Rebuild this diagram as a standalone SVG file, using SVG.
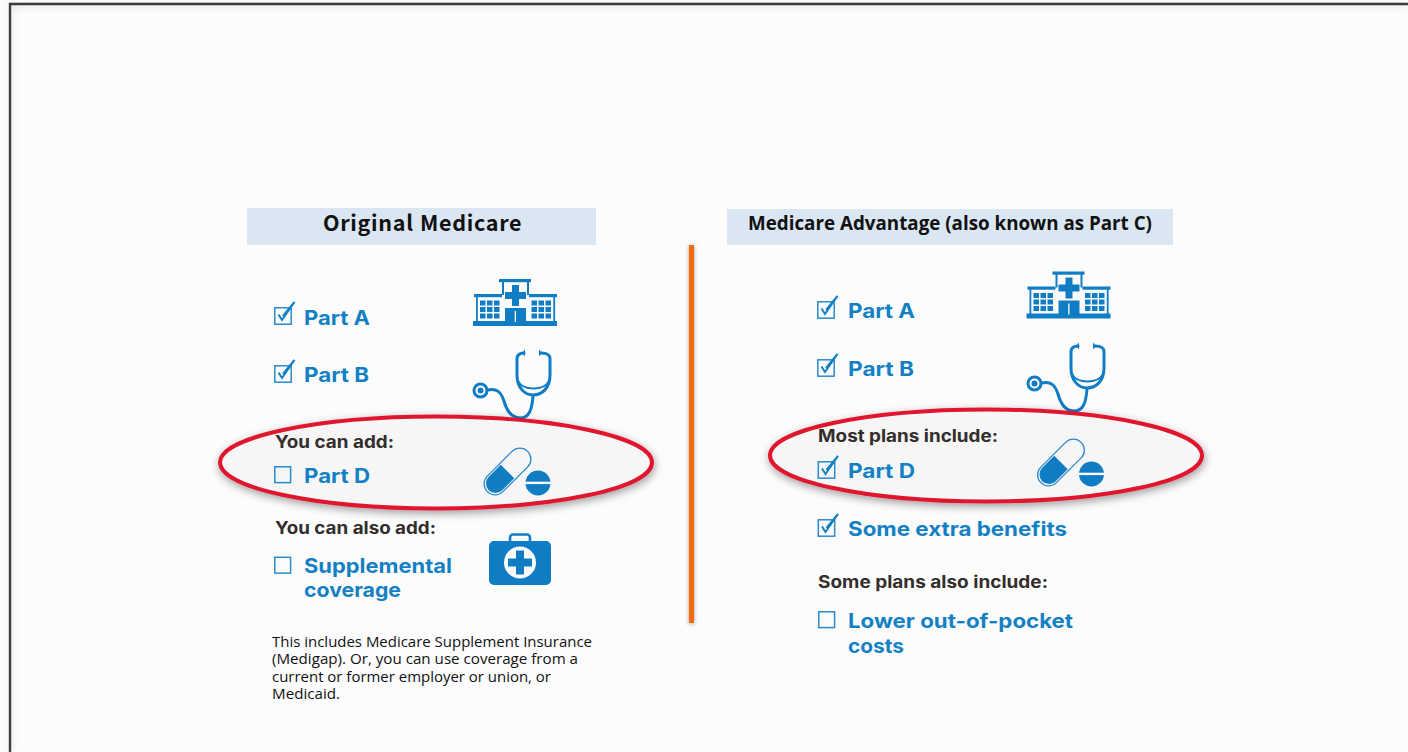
<svg xmlns="http://www.w3.org/2000/svg" width="1408" height="752" viewBox="0 0 1408 752">
<style>
.b{font-family:Inter,"Open Sans","Liberation Sans",sans-serif;font-weight:700;fill:#1480c4;font-size:20px}
.d{font-family:Inter,"Open Sans","Liberation Sans",sans-serif;font-weight:700;fill:#332e2b;font-size:17px}
.p{font-family:"Open Sans","Liberation Sans",sans-serif;fill:#111;font-size:14.5px}
.h{fill:#dae6f2}
.oval{fill:#f6f6f6;stroke:#e0182d;stroke-width:4;filter:url(#sh)}
.box{fill:none;stroke:#2a8aca;stroke-width:1.5}
.tick{fill:none;stroke:#1480c4;stroke-width:2}
.line{fill:none;stroke:#0f7cc3;stroke-width:3;stroke-linecap:round}
.f{fill:#0f7cc3}
.w{fill:#fcfcfd}
</style>
<defs>
<filter id="sh" x="-10%" y="-25%" width="120%" height="160%"><feDropShadow dx="1" dy="3" stdDeviation="4" flood-color="#000" flood-opacity=".38"/></filter>
<filter id="sh2" x="-400%" y="-3%" width="900%" height="106%"><feDropShadow dx="0" dy="1" stdDeviation="2" flood-color="#000" flood-opacity=".35"/></filter>
<filter id="sh3" x="-2%" y="-2%" width="104%" height="104%"><feGaussianBlur stdDeviation="4"/></filter>
<g id="chk"><rect class="box" x="0.800" y="0.800" width="16.400" height="16.400"/><path class="tick" d="M4.500 7.500 L8 13 L20.500 -5 L9 9"/></g>
<g id="emp"><rect class="box" x="0.800" y="0.800" width="15.800" height="15.800"/></g>
<g id="hospital">
<rect class="f" x="473" y="321" width="84" height="5"/>
<rect class="f" x="499" y="279" width="32" height="3.200"/>
<path class="f" d="M502 281h2v14h-2zM527 281h2v14h-2z"/>
<rect class="f" x="474" y="294" width="28" height="3.200"/><rect class="f" x="529" y="294" width="28" height="3.200"/>
<rect class="f" x="476" y="296" width="1.800" height="26"/><rect class="f" x="553.300" y="296" width="1.800" height="26"/>
<path class="f" d="M512 285h7v7h7v7h-7v7h-7v-7h-7v-7h7z"/>
<path class="f" d="M505 308h21v14h-21z"/>
<rect class="w" x="514.700" y="311" width="1.300" height="11"/>
<g class="f">
<rect x="480" y="300.500" width="5.500" height="5"/><rect x="487" y="300.500" width="5.500" height="5"/><rect x="494" y="300.500" width="5.500" height="5"/>
<rect x="480" y="307" width="5.500" height="5"/><rect x="487" y="307" width="5.500" height="5"/><rect x="494" y="307" width="5.500" height="5"/>
<rect x="480" y="313.500" width="5.500" height="5"/><rect x="487" y="313.500" width="5.500" height="5"/><rect x="494" y="313.500" width="5.500" height="5"/>
<rect x="531.500" y="300.500" width="5.500" height="5"/><rect x="538.500" y="300.500" width="5.500" height="5"/><rect x="545.500" y="300.500" width="5.500" height="5"/>
<rect x="531.500" y="307" width="5.500" height="5"/><rect x="538.500" y="307" width="5.500" height="5"/><rect x="545.500" y="307" width="5.500" height="5"/>
<rect x="531.500" y="313.500" width="5.500" height="5"/><rect x="538.500" y="313.500" width="5.500" height="5"/><rect x="545.500" y="313.500" width="5.500" height="5"/>
</g>
</g>
<g id="steth">
<circle cx="480.500" cy="390.500" r="6.500" fill="none" stroke="#0f7cc3" stroke-width="3"/><circle class="f" cx="480.500" cy="390.500" r="3"/>
<path class="line" d="M487.500 390 C497 388 501 392 504 401 C507 412 512 418 520 418 C529 418 532 410 533 396"/>
<path class="line" d="M524 353 C519 353 517 355 517 359 V375 C517 388 525 395 533 395 C542 395 550 388 550 375 V359 C550 355 548 353 541 353"/>
<path class="line" style="stroke-width:1.800" d="M518 381 C523 391 544 391 549 381"/>
<path class="f" d="M525 349.500v7l-3-3.500zM539 349.500v7l3-3.500z"/>
</g>
<g id="pill">
<g transform="translate(507.500 471.500) rotate(-45)">
<rect x="-28.500" y="-11" width="57" height="22" rx="11" fill="none" stroke="#2a8aca" stroke-width="1.300"/>
<path class="f" d="M0 -9.500 H-17 A9.500 9.500 0 0 0 -17 9.500 H0 Z"/>
</g>
<circle class="f" cx="538" cy="483" r="12.500"/><rect class="w" x="524" y="481.700" width="28" height="2.400"/>
</g>
</defs>

<rect width="1408" height="752" fill="#fcfcfd"/>
<path d="M10 752 V4 H1408" fill="none" stroke="#888" stroke-width="5" opacity=".3" filter="url(#sh3)" transform="translate(-2 -1)"/>
<path d="M0 0H1408V2H9V752H0Z" fill="#fff" opacity=".6"/>
<path id="frame" d="M10 752 V4 H1408" fill="none" stroke="#3c3c3c" stroke-width="2.400"/>

<g id="divider"><rect x="689" y="245" width="5" height="378" fill="#f56a10" filter="url(#sh2)"/></g>

<g id="original-medicare">
<g id="header-left"><rect class="h" x="247" y="208" width="349" height="37"/>
<text y="231" font-family="'Noto Sans CJK JP','Noto Sans',sans-serif" font-weight="700" font-size="21.500" letter-spacing="0.700" fill="#111"><tspan x="323">Original </tspan><tspan x="420">Medicare</tspan></text></g>
<use href="#hospital" id="hospital-left"/>
<use href="#steth" id="steth-left"/>
<g id="part-a-left"><use href="#chk" x="274" y="307"/><text class="b" x="304" y="324.500" textLength="66" lengthAdjust="spacingAndGlyphs">Part A</text></g>
<g id="part-b-left"><use href="#chk" x="274" y="365"/><text class="b" x="304" y="381.500" textLength="65" lengthAdjust="spacingAndGlyphs">Part B</text></g>
<g id="part-d-left">
<ellipse class="oval" cx="436" cy="462.500" rx="216" ry="46"/>
<text class="d" x="275" y="447.500" textLength="119" lengthAdjust="spacingAndGlyphs">You can add:</text>
<use href="#emp" x="274" y="466"/><text class="b" x="304" y="483" textLength="66" lengthAdjust="spacingAndGlyphs">Part D</text>
<use href="#pill"/>
</g>
<g id="supplemental">
<text class="d" x="275" y="533.500" textLength="161" lengthAdjust="spacingAndGlyphs">You can also add:</text>
<use href="#emp" x="274" y="556.500"/>
<text class="b" x="304" y="573" textLength="148" lengthAdjust="spacingAndGlyphs">Supplemental</text>
<text class="b" x="304" y="597" textLength="97" lengthAdjust="spacingAndGlyphs">coverage</text>
<g id="kit"><rect x="510" y="534.500" width="20" height="12" rx="3" fill="none" stroke="#0f7cc3" stroke-width="2.600"/>
<rect class="f" x="489" y="541" width="62" height="44" rx="5"/><circle class="w" cx="520" cy="562.500" r="16"/>
<path class="f" d="M516 550.500h8v8h8v8h-8v8h-8v-8h-8v-8h8z"/></g>
</g>
<g id="note" class="p">
<text x="272" y="646.500" textLength="320" lengthAdjust="spacingAndGlyphs">This includes Medicare Supplement Insurance</text>
<text x="272" y="664" textLength="306" lengthAdjust="spacingAndGlyphs">(Medigap). Or, you can use coverage from a</text>
<text x="272" y="681.500" textLength="279" lengthAdjust="spacingAndGlyphs">current or former employer or union, or</text>
<text x="272" y="699" textLength="68" lengthAdjust="spacingAndGlyphs">Medicaid.</text>
</g>
</g>

<g id="medicare-advantage">
<g id="header-right"><rect class="h" x="727" y="209" width="446" height="36"/>
<text x="748" y="230" textLength="404" lengthAdjust="spacingAndGlyphs" font-family="'Open Sans','Liberation Sans',sans-serif" font-weight="700" font-size="19.500" fill="#111">Medicare Advantage (also known as Part C)</text></g>
<use href="#hospital" id="hospital-right" transform="translate(553.500 -7.500)"/>
<use href="#steth" id="steth-right" transform="translate(554 -7)"/>
<g id="part-a-right"><use href="#chk" x="817" y="301"/><text class="b" x="848" y="318" textLength="67" lengthAdjust="spacingAndGlyphs">Part A</text></g>
<g id="part-b-right"><use href="#chk" x="817" y="359"/><text class="b" x="848" y="375.500" textLength="66" lengthAdjust="spacingAndGlyphs">Part B</text></g>
<g id="part-d-right">
<ellipse class="oval" cx="986" cy="455.500" rx="216" ry="46"/>
<text class="d" x="818" y="442" textLength="180" lengthAdjust="spacingAndGlyphs">Most plans include:</text>
<use href="#chk" x="817.500" y="461"/><text class="b" x="848" y="477.500" textLength="67" lengthAdjust="spacingAndGlyphs">Part D</text>
<use href="#pill" transform="translate(553.500 -9)"/>
</g>
<g id="extra"><use href="#chk" x="817.500" y="519"/><text class="b" x="848" y="535.500" textLength="219" lengthAdjust="spacingAndGlyphs">Some extra benefits</text></g>
<text id="some-plans" class="d" x="818" y="588" textLength="230" lengthAdjust="spacingAndGlyphs">Some plans also include:</text>
<g id="lower"><use href="#emp" x="818" y="611"/>
<text class="b" x="848" y="627.500" textLength="225" lengthAdjust="spacingAndGlyphs">Lower out-of-pocket</text>
<text class="b" x="848" y="652.500" textLength="56" lengthAdjust="spacingAndGlyphs">costs</text></g>
</g>
</svg>
